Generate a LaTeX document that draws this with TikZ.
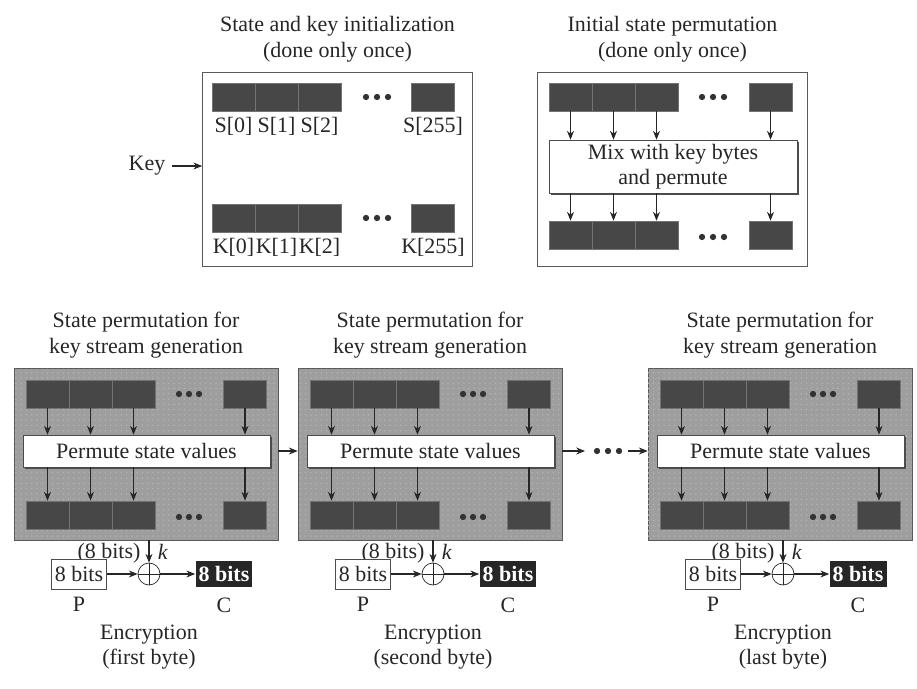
\documentclass[tikz,border=0pt]{standalone}
\usepackage{fontspec}
\setmainfont{Liberation Serif}
\usetikzlibrary{positioning,shadows,calc,arrows.meta,patterns}

\tikzset{
  every node/.append style={font=\fontsize{12.5}{14.5}\selectfont, text=black!85},
  cell/.style={draw=black!55, fill=black!72, minimum width=0.86cm, minimum height=0.56cm, inner sep=0pt},
  initbox/.style={draw=black!65, fill=white, minimum width=5.4cm, minimum height=3.88cm},
  panel/.style={draw=black!65, fill=black!38, minimum width=5.28cm, minimum height=3.44cm,
    postaction={pattern=dots, pattern color=white!70!black}},
  mixbox/.style={draw=black!70, fill=white, align=center, inner sep=0pt,
    drop shadow={shadow xshift=1.2pt, shadow yshift=-1.2pt, fill=black!70, opacity=1}},
  plainbyte/.style={draw=black!70, fill=white, minimum width=1.1cm, minimum height=0.6cm, inner sep=0pt},
  cipherbyte/.style={fill=black!85, minimum width=1.14cm, minimum height=0.54cm, inner sep=0pt,
    font=\fontsize{12.5}{14.5}\selectfont\bfseries, text=white},
  xorop/.style={circle, draw=black!85, minimum size=0.44cm, inner sep=0pt,
    path picture={\draw[black!85] (path picture bounding box.north) -- (path picture bounding box.south)
      (path picture bounding box.west) -- (path picture bounding box.east);}},
  caption/.style={align=center},
  link/.style={draw=black!85, line width=0.6pt, -{Stealth[length=5pt, width=4pt]}},
}

\begin{document}
\begin{tikzpicture}[x=0.02cm, y=-0.02cm]
    \useasboundingbox (0,0) rectangle (917,689);

    % State and key initialization
    \node (initS) [initbox] at (337.5,169) {};
    \node (titleS) [caption, above=2pt of initS] {State and key initialization\\(done only once)};
    \foreach \i/\x in {0/233.5,1/276.5,2/319.5} {
        \node (s\i) [cell] at (\x,97) {};
        \node (sl\i) [below=0pt of s\i] {S[\i]};
        \node (k\i) [cell] at (\x,218) {};
        \node (kl\i) [below=0pt of k\i] {K[\i]};
    }
    \node (s255) [cell] at (433,97) {};
    \node (sl255) [below=0pt of s255] {S[255]};
    \node (k255) [cell] at (433,218) {};
    \node (kl255) [below=0pt of k255] {K[255]};
    \foreach \x in {366,377,388} {
        \fill[black!80] (\x,97) circle (1.8pt);
        \fill[black!80] (\x,218) circle (1.8pt);
    }
    \node (key) at (147,166) {Key};
    \draw[link] (key) -- (key -| initS.west);

    % Initial state permutation
    \node (initP) [initbox] at (672.5,169) {};
    \node (titleP) [caption, above=2pt of initP] {Initial state permutation\\(done only once)};
    \node (mix) [mixbox, minimum width=4.96cm, minimum height=1.06cm] at (673,166.5) {Mix with key bytes\\and permute};
    \foreach \i/\x in {0/570.5,1/613.5,2/656.5,3/770.5} {
        \node (pt\i) [cell] at (\x,97) {};
        \node (pb\i) [cell] at (\x,235) {};
        \draw[link] (pt\i) -- (pt\i |- mix.north);
        \draw[link] (pb\i |- mix.south) -- (pb\i);
    }
    \foreach \x in {702,713,724} {
        \fill[black!80] (\x,97) circle (1.8pt);
        \fill[black!80] (\x,237) circle (1.8pt);
    }

    % Key stream generation and encryption
    \foreach \n/\L/\what in {1/14/first byte, 2/298/second byte, 3/648/last byte} {
        \node (panel\n) [panel] at (\L+132,454) {};
        \node (title\n) [caption, above=2pt of panel\n] {State permutation for\\key stream generation};
        \node (perm\n) [mixbox, minimum width=4.94cm, minimum height=0.64cm] at (\L+132.5,451) {Permute state values};
        \foreach \i/\x in {0/33.5,1/76.5,2/119.5,3/231} {
            \node (top\n\i) [cell] at (\L+\x,394) {};
            \node (bot\n\i) [cell] at (\L+\x,515) {};
            \draw[link] (top\n\i) -- (top\n\i |- perm\n.north);
            \draw[link] (bot\n\i |- perm\n.south) -- (bot\n\i);
        }
        \foreach \x in {165,175,185} {
            \fill[black!80] (\L+\x,394) circle (1.8pt);
            \fill[black!80] (\L+\x,517) circle (1.8pt);
        }
        \node (xor\n) [xorop] at (\L+135,574) {};
        \draw[link] (panel\n.south -| xor\n) -- (xor\n);
        \node (bits\n) at (\L+95,553) {(8 bits)};
        \node (kk\n) at (\L+149,552) {\textit{k}};
        \node (p\n) [plainbyte] at (\L+65,574) {8 bits};
        \node (pl\n) [below=1pt of p\n] {P};
        \node (c\n) [cipherbyte] at (\L+210,574) {8 bits};
        \node (cl\n) [below=2pt of c\n] {C};
        \draw[link] (p\n) -- (xor\n);
        \draw[link] (xor\n) -- (c\n);
        \node (enc\n) [caption] at (\L+135,647) {Encryption\\(\what)};
    }

    % Links between the panels
    \draw[link] (panel1.east |- perm1) -- (panel2.west |- perm2);
    \coordinate (gapA) at (585,451);
    \coordinate (gapB) at (628,451);
    \draw[link] (panel2.east |- perm2) -- (gapA);
    \foreach \x in {597,608,619} \fill[black!80] (\x,451) circle (1.8pt);
    \draw[link] (gapB) -- (panel3.west |- perm3);
\end{tikzpicture}
\end{document}
